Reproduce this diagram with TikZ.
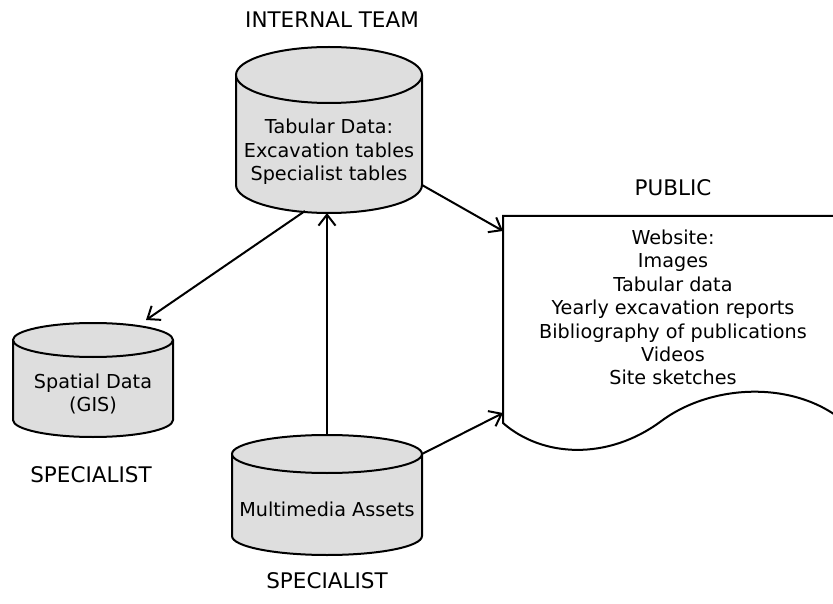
\documentclass[tikz,border=0pt]{standalone}
\usepackage{fontspec}
\setmainfont{DejaVu Sans}
\usetikzlibrary{arrows.meta}
\tikzset{
  cylfill/.style={fill=black!13},
  cylline/.style={draw=black, line width=2pt},
  txt/.style={align=center, font=\fontsize{19.2}{23.4}\selectfont, inner sep=0pt},
  role/.style={font=\fontsize{21.5}{24}\selectfont, inner sep=0pt},
  arr/.style={draw=black, line width=2pt, -{Straight Barb[length=11pt,width=17pt,line width=2pt]}},
  docline/.style={draw=black, line width=2pt}
}
\newcommand\dbcyl[6]{%
  \pgfmathsetmacro\cxl{#2-#5}\pgfmathsetmacro\cxr{#2+#5}%
  \fill[cylfill] (\cxl,#3) rectangle (\cxr,#4);
  \fill[cylfill] (#2,#4) ellipse[x radius=#5, y radius=#6];
  \draw[cylline] (\cxl,#3) -- (\cxl,#4) arc[start angle=180, end angle=0, x radius=#5, y radius=#6] -- (\cxr,#3);
  \filldraw[cylfill, cylline] (#2,#3) ellipse[x radius=#5, y radius=#6];
  \coordinate (#1-top) at (#2,#3-#6);
  \coordinate (#1-bot) at (#2,#4+#6);
  \coordinate (#1-ne) at (\cxr,#3);
  \coordinate (#1-se) at (\cxr,#4);
}
\begin{document}
\begin{tikzpicture}[x=1pt, y=-1pt]
\useasboundingbox (0,0) rectangle (833,604);
\clip (0,0) rectangle (833,604);

% cylinders
\dbcyl{tabc}{329}{75}{185}{93}{28}
\dbcyl{gisc}{93}{340}{420}{80}{17}
\dbcyl{mmc}{327}{454}{536}{95}{19}

% document shape
\draw[docline] (860,216) -- (503,216) -- (503,423)
  .. controls (543,458) and (608,460) .. (660,422)
  .. controls (710,384) and (792,380) .. (842,420);
\coordinate (web-in1) at (503,231);
\coordinate (web-in2) at (503,413);

% texts
\node[role] (lblint) at (332,20) {INTERNAL TEAM};
\node[txt] (tab) at (329,152) {Tabular Data:\\Excavation tables\\Specialist tables};
\node[txt] (gis) at (93,394) {Spatial Data\\(GIS)};
\node[role] (lblgis) at (91,475) {SPECIALIST};
\node[txt] (mm) at (327,509) {Multimedia Assets};
\node[role] (lblmm) at (327,581) {SPECIALIST};
\node[role] (lblpub) at (673,188) {PUBLIC};
\node[txt] (web) at (673,307.5) {Website:\\Images\\Tabular data\\Yearly excavation reports\\Bibliography of publications\\Videos\\Site sketches};

% connectors
\coordinate (tab-bl) at (305,211);
\coordinate (gis-tip) at (146,320);
\draw[arr] (tabc-se) -- (web-in1);
\draw[arr] (tab-bl) -- (gis-tip);
\draw[arr] (mmc-top) -- (mmc-top |- tabc-bot);
\draw[arr] (mmc-ne) -- (web-in2);
\end{tikzpicture}
\end{document}
